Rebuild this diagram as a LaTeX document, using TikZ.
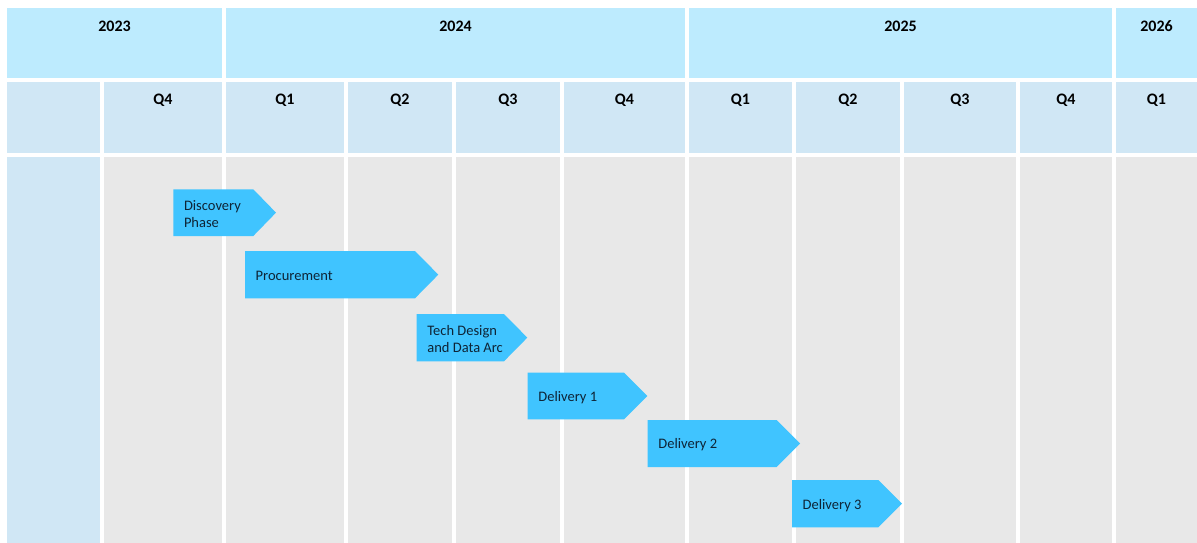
\documentclass[tikz,border=0pt]{standalone}
\usepackage{fontspec}
\setmainfont{Carlito}
\definecolor{yearblue}{HTML}{BDEBFE}
\definecolor{qblue}{HTML}{D0E7F5}
\definecolor{bodygray}{HTML}{E8E8E8}
\definecolor{taskblue}{HTML}{40C4FF}
\definecolor{taskink}{HTML}{0E2436}
\tikzset{
  cellbox/.style={draw=none, inner sep=0pt, outer sep=0pt, anchor=north west},
  yearcell/.style={cellbox, fill=yearblue},
  qcell/.style={cellbox, fill=qblue},
  bodycell/.style={cellbox, fill=bodygray},
  sidecell/.style={cellbox, fill=qblue},
  headtext/.style={inner sep=0pt, anchor=base, font=\fontsize{16}{19}\selectfont\bfseries, text=black},
  tasktext/.style={inner sep=0pt, anchor=west, align=left, font=\fontsize{14.5}{17.3}\selectfont, text=taskink},
  taskshape/.style={fill=taskblue, draw=none}
}
% one chevron bar: name, left, top, bottom, shoulder, tip, label
\newcommand{\taskbar}[7]{%
  \fill[taskshape] (#2,#3) -- (#5,#3) -- (#6,{(#3+#4)/2}) -- (#5,#4) -- (#2,#4) -- cycle;
  \node[tasktext] (#1) at ({#2+10.5},{(#3+#4)/2+1.5}) {#7};
}
\begin{document}
\begin{tikzpicture}[x=1pt, y=-1pt]
\useasboundingbox[fill=white] (0,0) rectangle (1197,543);

% year row
\node[yearcell, minimum width=215pt, minimum height=70pt] (y2023) at (7,8) {};
\node[yearcell, minimum width=459pt, minimum height=70pt] (y2024) at (226,8) {};
\node[yearcell, minimum width=423pt, minimum height=70pt] (y2025) at (689,8) {};
\node[yearcell, minimum width=81pt, minimum height=70pt] (y2026) at (1116,8) {};
\foreach \c/\t in {y2023/2023, y2024/2024, y2025/2025, y2026/2026}
  \node[headtext] (\c-label) at ([yshift=-23.7pt]\c.north) {\t};

% quarter row and body columns
\foreach \n/\l/\r/\t in {c0/7/100/, c1/104/222/Q4, c2/226/344/Q1, c3/348/452/Q2,
    c4/456/560/Q3, c5/564/685/Q4, c6/689/792/Q1, c7/796/900/Q2,
    c8/904/1016/Q3, c9/1020/1112/Q4, c10/1116/1197/Q1}{
  \pgfmathsetmacro{\w}{\r-\l}
  \node[qcell, minimum width=\w pt, minimum height=71pt] (\n-head) at (\l,82) {};
  \node[headtext] (\n-label) at ([yshift=-22.3pt]\n-head.north) {\t};
}
\node[sidecell, minimum width=93pt, minimum height=386pt] (c0-body) at (7,157) {};
\foreach \n/\l/\r in {c1/104/222, c2/226/344, c3/348/452, c4/456/560, c5/564/685,
    c6/689/792, c7/796/900, c8/904/1016, c9/1020/1112, c10/1116/1197}{
  \pgfmathsetmacro{\w}{\r-\l}
  \node[bodycell, minimum width=\w pt, minimum height=386pt] (\n-body) at (\l,157) {};
}

% task bars
\taskbar{discovery}{173.3}{189.3}{236}{253.3}{276}{Discovery\\Phase}
\taskbar{procurement}{245}{251}{298.3}{415}{438.3}{Procurement}
\taskbar{techdesign}{416.7}{314}{361.3}{504}{527.3}{Tech Design\\and Data Arc}
\taskbar{delivery1}{527.7}{372.7}{419.3}{624}{647.3}{Delivery 1}
\taskbar{delivery2}{647.7}{420}{467}{776.7}{800}{Delivery 2}
\taskbar{delivery3}{792}{480}{527.3}{878.3}{902}{Delivery 3}
\end{tikzpicture}
\end{document}
